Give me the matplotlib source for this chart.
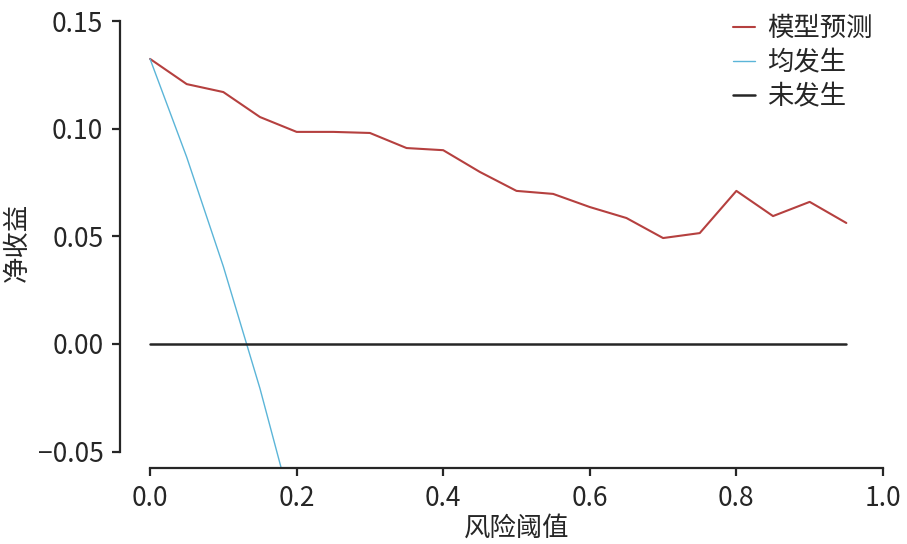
import numpy as np
import matplotlib
import matplotlib.pyplot as plt
import seaborn as sns
matplotlib.use('Agg')

# 决策曲线数据 (阈值 0 ~ 0.95)
thresholds = [0.0, 0.05, 0.10, 0.15, 0.20, 0.25, 0.30, 0.35, 0.40, 0.45,
              0.50, 0.55, 0.60, 0.65, 0.70, 0.75, 0.80, 0.85, 0.90, 0.95]
nb_model = [0.1324, 0.1207, 0.1170, 0.1054, 0.0985, 0.0985, 0.0980, 0.0910,
            0.0900, 0.0799, 0.0711, 0.0697, 0.0636, 0.0585, 0.0492, 0.0515,
            0.0711, 0.0594, 0.0660, 0.0562]
all_thresholds = [0.0, 0.05, 0.10, 0.15, 0.20]
nb_all = [0.1324, 0.0868, 0.0360, -0.0207, -0.0845]
nb_none = [0.0] * len(thresholds)

labels = ['模型预测', '均发生', '未发生']
colors = ['#b5403f', '#5bb5d8', '#262626']

sns.set_theme(style='ticks')
plt.rcParams['font.family'] = ['Noto Sans CJK SC', 'DejaVu Sans']

fs = 19
fig = plt.figure(figsize=(9.07, 5.44), dpi=100)
ax = fig.add_axes([0.1323, 0.1397, 0.8412, 0.8296])

ax.plot(thresholds, nb_model, color=colors[0], lw=1.5, label=labels[0])
ax.plot(all_thresholds, nb_all, color=colors[1], lw=1.0, label=labels[1])
ax.plot(thresholds, nb_none, color=colors[2], lw=1.8, label=labels[2])

ax.set_xlim(-0.041, 1.0)
ax.set_ylim(-0.0576, 0.152)
ax.set_xticks([0.0, 0.2, 0.4, 0.6, 0.8, 1.0])
ax.set_xticklabels(['0.0', '0.2', '0.4', '0.6', '0.8', '1.0'])
ax.set_yticks([-0.05, 0.0, 0.05, 0.10, 0.15])
ax.set_yticklabels(['\u22120.05', '0.00', '0.05', '0.10', '0.15'])

for side in ['top', 'right']:
    ax.spines[side].set_visible(False)
ax.spines['bottom'].set_bounds(0.0, 1.0)
ax.spines['left'].set_bounds(-0.05, 0.15)
for side in ['bottom', 'left']:
    ax.spines[side].set_linewidth(1.6)
    ax.spines[side].set_color('#262626')
ax.tick_params(axis='both', labelsize=fs, length=6, width=1.6, pad=6,
               color='#262626', labelcolor='#262626', direction='out')

ax.set_xlabel('风险阈值', fontsize=fs, color='#262626')
ax.set_ylabel('净收益', fontsize=fs, color='#262626')
ax.xaxis.set_label_coords(0.52, -0.103)
ax.yaxis.set_label_coords(-0.117, 0.5)

ax.legend(loc='upper right', bbox_to_anchor=(883 / 907, 0.992),
          bbox_transform=fig.transFigure, frameon=False, fontsize=fs,
          handlelength=0.85, handletextpad=0.45, labelspacing=0.28,
          borderaxespad=0.0)

plt.savefig('out.png', dpi=100)
plt.close()
